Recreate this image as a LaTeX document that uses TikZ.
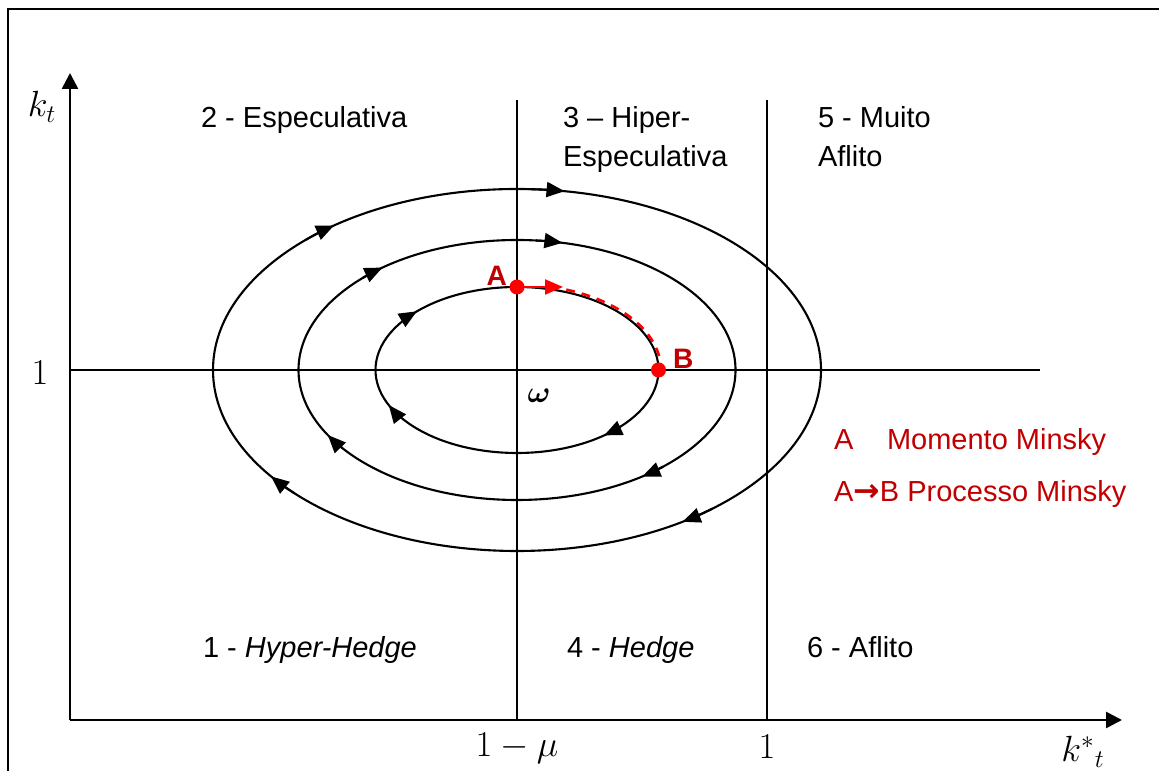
\documentclass[tikz,border=0pt]{standalone}
\usepackage{amsmath,amssymb}
\usepackage[no-math]{fontspec}
\setmainfont{Liberation Sans}
\newfontfamily\arrowfont{DejaVu Sans}
\usetikzlibrary{arrows.meta}
\definecolor{minskyred}{RGB}{192,0,0}
\definecolor{pointred}{RGB}{255,0,0}

\begin{document}
\begin{tikzpicture}[font=\fontsize{16.5}{22.7}\selectfont, line width=1.2pt,
    axis/.style={line width=1.5pt, -{Triangle[length=0.32cm, width=0.32cm]}},
    flowtip/.style={-{Triangle[length=0.36cm, width=0.3cm]}},
    region/.style={anchor=base west, inner sep=0pt, align=left},
    mathlab/.style={font=\fontsize{20}{22}\selectfont}]
      \useasboundingbox (0,0) rectangle (23.18,15.42);
      % Frame (cut at the right and bottom)
      \draw[line width=1.6pt] (0.16,0) |- (23.18,15.24);
      % Reference points
      \coordinate (O) at (1.4,1.02);
      \coordinate (ytop) at (1.4,13.96);
      \coordinate (xend) at (22.44,1.02);
      \coordinate (w) at (10.34,8.02);
      \coordinate (hl) at (1.4,8.02);
      \coordinate (hr) at (20.8,8.02);
      \coordinate (mu) at (10.34,1.02);
      \coordinate (mutop) at (10.34,13.42);
      \coordinate (one) at (15.34,1.02);
      \coordinate (onetop) at (15.34,13.42);
      % Axes
      \draw[axis] (O) -- (ytop);
      \draw[axis] (O) -- (xend);
      % Dividing lines
      \draw (hl) -- (hr);
      \draw (mu) -- (mutop);
      \draw (one) -- (onetop);
      % Cycles around omega
      \draw (w) ellipse [x radius=6.08, y radius=3.62];
      \draw (w) ellipse [x radius=4.37, y radius=2.6];
      \draw (w) ellipse [x radius=2.83, y radius=1.66];
      % Clockwise arrowheads
      \foreach \rx/\ry/\angs in {6.08/3.62/{81,127,216,303}, 4.37/2.6/{78,128,210,305}, 2.83/1.66/{135,205,308}}{
        \foreach \t in \angs {
          \draw[flowtip] (w) ++({\rx*cos(\t+7)},{\ry*sin(\t+7)})
            arc[start angle=\t+7, end angle=\t, x radius=\rx, y radius=\ry];
        }
      }
      % Minsky moment and process
      \draw[pointred, line width=1.5pt, dash pattern=on 5pt off 4pt]
        (w) ++({2.88*cos(70)},{1.71*sin(70)}) arc[start angle=70, end angle=4, x radius=2.88, y radius=1.71];
      \node[circle, fill=pointred, inner sep=0pt, minimum size=0.3cm] (A) at (10.34,9.68) {};
      \node[circle, fill=pointred, inner sep=0pt, minimum size=0.3cm] (B) at (13.17,8.02) {};
      \coordinate (Atip) at (11.26,9.68);
      \draw[pointred, line width=1.3pt, flowtip] (A.center) -- (Atip);
      \node[minskyred, font=\fontsize{16}{18}\selectfont\bfseries, anchor=base east, inner sep=0pt] (Alab) at (10.16,9.70) {A};
      \node[minskyred, font=\fontsize{16}{18}\selectfont\bfseries, anchor=base west, inner sep=0pt] (Blab) at (13.44,8.04) {B};
      \node[inner sep=0pt] (omega) at (10.78,7.5) {$\boldsymbol{\omega}$};
      % Regions
      \node[region] (r2) at (4.0,12.86) {2 - Especulativa};
      \node[region] (r3) at (11.24,12.08) {3 -- Hiper-\\Especulativa};
      \node[region] (r5) at (16.34,12.08) {5 - Muito\\Aflito};
      \node[region] (r1) at (4.04,2.26) {1 - \textit{Hyper-Hedge}};
      \node[region] (r4) at (11.32,2.26) {4 - \textit{Hedge}};
      \node[region] (r6) at (16.12,2.26) {6 - Aflito};
      % Legend
      \node[region, minskyred] (legA) at (16.66,6.42) {A};
      \node[region, minskyred] (legAtxt) at (17.72,6.42) {Momento Minsky};
      \node[region, minskyred] (legAB) at (16.66,5.38) {A{\arrowfont\bfseries\fontsize{18}{20}\selectfont →}B Processo Minsky};
      % Axis labels
      \node[mathlab] (kt) at (0.84,13.28) {$k_t$};
      \node[mathlab] (yone) at (0.8,7.96) {$1$};
      \node[mathlab] (mulab) at (10.34,0.46) {$1-\mu$};
      \node[mathlab] (onelab) at (15.34,0.48) {$1$};
      \node[mathlab] (kstar) at (21.66,0.38) {${k^*}_t$};
    \end{tikzpicture}
\end{document}
